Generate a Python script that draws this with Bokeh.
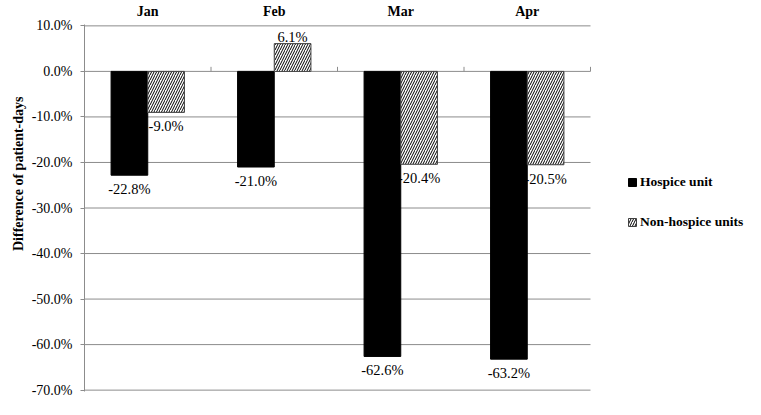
from bokeh.plotting import figure
from bokeh.models import (Range1d, FixedTicker, PrintfTickFormatter, Legend,
                          LegendItem, ColumnDataSource, Title)
from bokeh.core.properties import value
from bokeh.embed import file_html
from bokeh.resources import INLINE

months = ["Jan", "Feb", "Mar", "Apr"]
hospice = [-22.8, -21.0, -62.6, -63.2]
non_hospice = [-9.0, 6.1, -20.4, -20.5]
y_ticks = [-70, -60, -50, -40, -30, -20, -10, 0, 10]
series_names = ["Hospice unit", "Non-hospice units"]
y_title = "Difference of patient-days"

SERIF = "Liberation Serif"
GRID = "#8c8c8c"
BAR_W = 0.29
W, H = 745, 399
LEFT, TOP, BOTTOM = 84, 23, 8
CAT_PX = 506                      # pixel width of the category area
FRAME_W = W - LEFT
X_END = len(months) * FRAME_W / CAT_PX   # extra room on the right for legend
PAD = 0.3

idx = list(range(len(months)))
xc = [i + 0.5 for i in idx]
x_h = [c - BAR_W / 2 for c in xc]
x_n = [c + BAR_W / 2 for c in xc]

p = figure(width=W, height=H,
           x_range=Range1d(0, X_END),
           y_range=Range1d(min(y_ticks) - PAD, max(y_ticks) + PAD),
           output_backend="svg", toolbar_location=None,
           x_axis_location="above",
           min_border_left=LEFT, min_border_right=0,
           min_border_top=TOP, min_border_bottom=BOTTOM)
p.outline_line_color = None
p.background_fill_color = "white"
p.border_fill_color = "white"
p.xgrid.visible = False
p.ygrid.visible = False

# horizontal grid lines spanning only the category area
n = len(months)
p.segment(x0=[0] * len(y_ticks), y0=y_ticks, x1=[n] * len(y_ticks), y1=y_ticks,
          line_color=GRID, line_width=1)

# top category axis
xa = p.xaxis[0]
xa.ticker = FixedTicker(ticks=xc)
xa.major_label_overrides = {c: m for c, m in zip(xc, months)}
xa.axis_line_color = None
xa.major_tick_line_color = None
xa.major_tick_out = 0
xa.major_tick_in = 0
xa.minor_tick_line_color = None
xa.major_label_standoff = 6
xa.major_label_text_font = SERIF
xa.major_label_text_font_style = "bold"
xa.major_label_text_font_size = "14px"
xa.major_label_text_color = "black"

# left value axis
ya = p.yaxis[0]
ya.ticker = FixedTicker(ticks=y_ticks)
ya.formatter = PrintfTickFormatter(format="%.1f%%")
ya.axis_line_color = GRID
ya.major_tick_line_color = GRID
ya.major_tick_out = 4
ya.major_tick_in = 0
ya.minor_tick_line_color = None
ya.major_label_standoff = 8
ya.major_label_text_font = SERIF
ya.major_label_text_font_size = "14px"
ya.major_label_text_color = "black"

p.add_layout(Title(text=y_title, align="right", offset=72,
                   text_font=SERIF, text_font_style="bold",
                   text_font_size="14px", text_color="black",
                   standoff=6), "left")

# category boundary ticks on the zero line
bounds = [i + 1 for i in idx]
p.segment(x0=bounds, y0=[0] * len(bounds), x1=bounds, y1=[1.0] * len(bounds),
          line_color=GRID, line_width=1)

# bars
r_h = p.vbar(x=x_h, top=hospice, bottom=0, width=BAR_W,
             fill_color="black", line_color="black", line_width=1)
r_n = p.vbar(x=x_n, top=non_hospice, bottom=0, width=BAR_W,
             fill_color="white", line_color="#404040", line_width=1,
             hatch_pattern="/", hatch_color="black", hatch_scale=5,
             hatch_weight=1)

# data labels
def add_labels(xs, vals):
    neg = [(x, v) for x, v in zip(xs, vals) if v < 0]
    pos = [(x, v) for x, v in zip(xs, vals) if v >= 0]
    for grp, base, off in ((neg, "top", 6), (pos, "bottom", 1)):
        if not grp:
            continue
        src = ColumnDataSource(dict(x=[g[0] for g in grp], y=[g[1] for g in grp],
                                    t=[f"{g[1]:.1f}%" for g in grp]))
        p.text(x="x", y="y", text="t", source=src, text_align="center",
               text_baseline=base, y_offset=off, text_font=value(SERIF),
               text_font_size="14.5px", text_color="black")

add_labels(x_h, hospice)
add_labels(x_n, non_hospice)

legend = Legend(items=[LegendItem(label=series_names[0], renderers=[r_h]),
                       LegendItem(label=series_names[1], renderers=[r_n])],
                location=(543, 159))
legend.padding = 0
legend.margin = 0
legend.spacing = 20
legend.glyph_width = 10
legend.glyph_height = 10
legend.label_height = 20
legend.label_standoff = 3
legend.border_line_color = None
legend.background_fill_alpha = 0
legend.label_text_font = SERIF
legend.label_text_font_style = "bold"
legend.label_text_font_size = "13.5px"
legend.label_text_color = "black"
p.add_layout(legend, "center")

open("out.html", "w").write(file_html(p, INLINE))
